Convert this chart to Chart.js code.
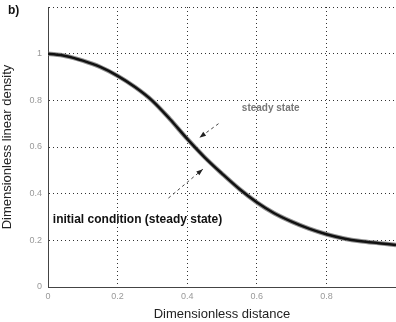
<!DOCTYPE html>
<html>
<head>
<meta charset="utf-8">
<script src="https://cdn.jsdelivr.net/npm/chart.js@4"></script>
<style>
    html, body { margin: 0; padding: 0; background: #fff; }
    #wrap { position: relative; width: 396px; height: 322px; }
</style>
</head>
<body>
<div id="wrap"><canvas id="densityChart" width="396" height="322"></canvas></div>
<script>
// distance values (dimensionless)
const distance = [0, 0.05, 0.1, 0.15, 0.2, 0.25, 0.3, 0.35, 0.4, 0.45, 0.5,
    0.55, 0.6, 0.65, 0.7, 0.75, 0.8, 0.85, 0.9, 0.95, 1.0];
// initial condition and steady state lie on top of each other
const initialDensity = [1.0, 0.99, 0.97, 0.943, 0.905, 0.857, 0.798, 0.72, 0.635, 0.556, 0.486,
    0.42, 0.363, 0.316, 0.28, 0.25, 0.226, 0.208, 0.196, 0.188, 0.18];
const steadyDensity = [1.0, 0.99, 0.97, 0.943, 0.905, 0.857, 0.798, 0.72, 0.635, 0.556, 0.486,
    0.42, 0.363, 0.316, 0.28, 0.25, 0.226, 0.208, 0.196, 0.188, 0.18];
const xTicks = ['0', '0.2', '0.4', '0.6', '0.8'];
const yTicks = ['0', '0.2', '0.4', '0.6', '0.8', '1'];

const FONT = '"Liberation Sans", Arial, sans-serif';

function toPoints(xs, ys) {
    return xs.map((x, i) => ({ x: x, y: ys[i] }));
}

// texts and arrows, placed in data units
const annotations = {
    panel: 'b)',
    steadyLabel: { text: 'steady state', x: 0.64, y: 0.767 },
    initialLabel: { text: 'initial condition (steady state)', x: 0.014, y: 0.29 },
    arrows: [
        { from: [0.346, 0.381], to: [0.445, 0.505] },
        { from: [0.49, 0.70], to: [0.435, 0.64] }
    ]
};

function drawArrow(ctx, x1, y1, x2, y2) {
    ctx.save();
    ctx.strokeStyle = '#444';
    ctx.lineWidth = 1;
    ctx.setLineDash([3, 3]);
    ctx.beginPath();
    ctx.moveTo(x1, y1);
    ctx.lineTo(x2, y2);
    ctx.stroke();
    ctx.setLineDash([]);
    const a = Math.atan2(y2 - y1, x2 - x1);
    const len = 7;
    ctx.fillStyle = '#222';
    ctx.beginPath();
    ctx.moveTo(x2, y2);
    ctx.lineTo(x2 - len * Math.cos(a - 0.35), y2 - len * Math.sin(a - 0.35));
    ctx.lineTo(x2 - len * Math.cos(a + 0.35), y2 - len * Math.sin(a + 0.35));
    ctx.closePath();
    ctx.fill();
    ctx.restore();
}

const annotationPlugin = {
    id: 'textAnnotations',
    afterDatasetsDraw(chart) {
        const ctx = chart.ctx;
        const xs = chart.scales.x;
        const ys = chart.scales.y;

        annotations.arrows.forEach(a => {
            drawArrow(ctx,
                xs.getPixelForValue(a.from[0]), ys.getPixelForValue(a.from[1]),
                xs.getPixelForValue(a.to[0]), ys.getPixelForValue(a.to[1]));
        });

        ctx.save();
        ctx.textBaseline = 'middle';

        const s = annotations.steadyLabel;
        ctx.fillStyle = '#777';
        ctx.font = 'bold 10px ' + FONT;
        ctx.textAlign = 'center';
        ctx.fillText(s.text, xs.getPixelForValue(s.x), ys.getPixelForValue(s.y));

        const ic = annotations.initialLabel;
        ctx.fillStyle = '#111';
        ctx.font = 'bold 12px ' + FONT;
        ctx.textAlign = 'left';
        ctx.fillText(ic.text, xs.getPixelForValue(ic.x), ys.getPixelForValue(ic.y));

        ctx.font = 'bold 12px ' + FONT;
        ctx.fillText(annotations.panel, 8, 11);
        ctx.restore();
    }
};

new Chart(document.getElementById('densityChart'), {
    type: 'line',
    data: {
        datasets: [
            {
                label: 'initial condition',
                data: toPoints(distance, initialDensity),
                borderColor: '#111',
                borderWidth: 2.5,
                pointRadius: 0,
                cubicInterpolationMode: 'monotone',
                order: 1
            },
            {
                label: 'steady state',
                data: toPoints(distance, steadyDensity),
                borderColor: 'rgba(120, 120, 120, 0.8)',
                borderWidth: 4.5,
                pointRadius: 0,
                cubicInterpolationMode: 'monotone',
                order: 2
            }
        ]
    },
    options: {
        responsive: false,
        animation: false,
        layout: { padding: { top: 7, right: 0, left: 0, bottom: 0 } },
        plugins: {
            legend: { display: false },
            tooltip: { enabled: false }
        },
        scales: {
            x: {
                type: 'linear',
                min: 0,
                max: 1,
                afterFit: s => {
                    s.height = 35;
                    s.paddingLeft = 0;
                    s.paddingRight = 0;
                },
                ticks: {
                    stepSize: 0.2,
                    maxRotation: 0,
                    padding: 4,
                    color: '#999',
                    font: { family: FONT, size: 9 },
                    callback: v => {
                        const i = Math.round(v / 0.2);
                        return xTicks[i] !== undefined ? xTicks[i] : '';
                    }
                },
                grid: { color: '#333', drawTicks: false },
                border: { display: true, color: '#444', width: 1, dash: [1, 3] },
                title: {
                    display: true,
                    text: 'Dimensionless distance',
                    color: '#222',
                    padding: { top: 2, bottom: 0 },
                    font: { family: FONT, size: 13 }
                }
            },
            y: {
                min: 0,
                max: 1.2,
                afterFit: s => {
                    s.width = 48;
                    s.paddingTop = 0;
                    s.paddingBottom = 0;
                },
                ticks: {
                    stepSize: 0.2,
                    padding: 6,
                    color: '#999',
                    font: { family: FONT, size: 9 },
                    callback: v => {
                        const i = Math.round(v / 0.2);
                        return yTicks[i] !== undefined ? yTicks[i] : '';
                    }
                },
                grid: { color: '#333', drawTicks: false },
                border: { display: true, color: '#444', width: 1, dash: [1, 3] },
                title: {
                    display: true,
                    text: 'Dimensionless linear density',
                    color: '#222',
                    padding: { top: 0, bottom: 4 },
                    font: { family: FONT, size: 13 }
                }
            }
        }
    },
    plugins: [annotationPlugin]
});
</script>
</body>
</html>
